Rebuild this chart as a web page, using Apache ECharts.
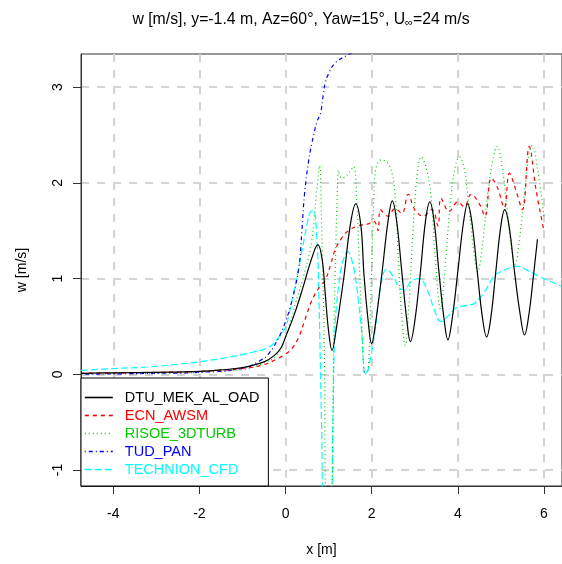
<!DOCTYPE html>
<html><head><meta charset="utf-8">
<script src="https://cdn.jsdelivr.net/npm/echarts@6/dist/echarts.min.js"></script>
<style>html,body{margin:0;padding:0;background:#fff}#c{width:562px;height:564px}</style>
</head><body><div id="c"></div>
<script>
const xTicks = [-4, -2, 0, 2, 4, 6];
const yTicks = [-1, 0, 1, 2, 3];
const seriesNames = ['DTU_MEK_AL_OAD', 'ECN_AWSM', 'RISOE_3DTURB', 'TUD_PAN', 'TECHNION_CFD'];
const dtu = [[-4.75,0.01],[-4,0.015],[-3,0.02],[-2,0.03],[-1.5,0.045],[-1,0.07],[-0.5,0.13],[-0.25,0.2],[-0.1,0.28],[0,0.39],[0.2,0.62],[0.4,0.9],[0.6,1.2],[0.75,1.355],[0.85,1.2],[0.92,0.85],[1.0,0.45],[1.08,0.25],[1.17,0.45],[1.35,1.0],[1.5,1.55],[1.63,1.78],[1.75,1.55],[1.82,1.05],[1.92,0.55],[2.0,0.32],[2.08,0.5],[2.24,1.06],[2.38,1.6],[2.48,1.81],[2.58,1.6],[2.7,1.07],[2.82,0.55],[2.9,0.34],[3.0,0.55],[3.13,1.06],[3.25,1.6],[3.35,1.8],[3.45,1.6],[3.56,1.08],[3.68,0.58],[3.77,0.36],[3.87,0.58],[4.0,1.07],[4.13,1.58],[4.23,1.78],[4.33,1.58],[4.45,1.08],[4.57,0.6],[4.67,0.39],[4.77,0.6],[4.88,1.06],[5.0,1.55],[5.09,1.72],[5.19,1.55],[5.32,1.06],[5.45,0.62],[5.55,0.41],[5.65,0.62],[5.75,1.0],[5.85,1.41]];
const ecn = [[-4.75,0.01],[-3,0.02],[-2,0.03],[-1,0.06],[-0.5,0.1],[-0.2,0.16],[0,0.21],[0.15,0.27],[0.31,0.39],[0.45,0.57],[0.61,0.77],[0.8,0.92],[0.92,0.98],[1.05,1.15],[1.15,1.30],[1.3,1.42],[1.46,1.50],[1.69,1.55],[1.92,1.57],[2.05,1.6],[2.15,1.5],[2.2,1.72],[2.38,1.65],[2.54,1.73],[2.7,1.68],[2.85,1.88],[3.0,1.72],[3.2,1.65],[3.4,1.72],[3.54,1.55],[3.61,1.84],[3.8,1.70],[4.0,1.80],[4.15,1.75],[4.31,1.88],[4.5,1.78],[4.63,1.65],[4.78,2.05],[4.92,1.95],[5.08,1.74],[5.2,2.10],[5.35,1.92],[5.5,1.72],[5.66,2.38],[5.82,1.92],[6.0,1.5]];
const risoe = [[-4.75,0.0],[-3,0.01],[-2,0.02],[-1,0.05],[-0.5,0.12],[-0.2,0.2],[0,0.38],[0.1,0.52],[0.23,0.74],[0.46,1.09],[0.61,1.4],[0.72,1.9],[0.79,2.18],[0.84,1.5],[0.9,0.3],[0.95,-1.3],[1.05,-1.3],[1.12,0.4],[1.17,1.4],[1.2,1.85],[1.23,2.13],[1.3,2.05],[1.38,2.06],[1.5,2.12],[1.58,2.17],[1.65,1.85],[1.71,1.2],[1.77,0.53],[1.85,0.0],[1.92,0.05],[1.98,0.8],[2.05,1.82],[2.1,2.15],[2.23,2.24],[2.42,2.17],[2.54,1.89],[2.62,1.2],[2.7,0.6],[2.78,0.3],[2.86,0.7],[2.96,1.5],[3.05,2.05],[3.15,2.27],[3.27,2.15],[3.38,1.85],[3.48,1.2],[3.6,0.68],[3.7,1.1],[3.82,1.75],[3.93,2.15],[4.04,2.27],[4.15,2.15],[4.27,1.7],[4.38,1.25],[4.46,1.07],[4.56,1.3],[4.7,1.9],[4.82,2.25],[4.91,2.38],[5.02,2.2],[5.15,1.7],[5.25,1.3],[5.33,1.15],[5.43,1.4],[5.55,1.9],[5.65,2.3],[5.73,2.39],[5.85,2.15],[6.0,1.65]];
const tud = [[-4.75,0.0],[-3,0.01],[-2,0.02],[-1,0.06],[-0.6,0.14],[-0.38,0.22],[-0.15,0.39],[0.0,0.55],[0.15,0.77],[0.31,1.12],[0.38,1.5],[0.44,1.88],[0.54,2.24],[0.61,2.41],[0.73,2.64],[0.81,2.72],[0.88,2.93],[0.92,3.04],[1.0,3.14],[1.15,3.25],[1.42,3.33],[1.6,3.37]];
const technion = [[-4.75,0.04],[-4,0.06],[-3.2,0.076],[-2.5,0.105],[-2,0.13],[-1.3,0.18],[-0.77,0.23],[-0.38,0.285],[-0.15,0.39],[0,0.49],[0.08,0.63],[0.31,1.12],[0.5,1.57],[0.58,1.70],[0.65,1.71],[0.73,1.4],[0.77,0.88],[0.8,0.3],[0.84,-0.6],[0.88,-1.3],[1.05,-1.3],[1.1,-0.5],[1.15,0.5],[1.27,1.05],[1.38,1.25],[1.44,1.28],[1.52,1.22],[1.61,1.05],[1.69,0.77],[1.77,0.43],[1.85,0.0],[1.92,0.05],[2.08,0.46],[2.2,0.9],[2.35,1.1],[2.5,1.02],[2.65,0.9],[2.75,0.88],[2.92,0.97],[3.1,1.0],[3.31,0.86],[3.45,0.68],[3.61,0.55],[3.8,0.62],[3.95,0.69],[4.2,0.72],[4.38,0.74],[4.62,0.86],[4.85,1.03],[5.0,1.07],[5.2,1.11],[5.38,1.13],[5.6,1.09],[5.85,1.03],[6.1,0.98],[6.4,0.92]];

const colors = ['#000000', '#ff0000', '#00cd00', '#0000ff', '#00ffff'];
const dashes = ['solid', [4,4], [1,3], [1,3,4,3], [7,3]];
const datas = [dtu, ecn, risoe, tud, technion];

const chart = echarts.init(document.getElementById('c'));
const FONT = 'Liberation Sans, Arial, sans-serif';
chart.setOption({
  animation: false,
  textStyle: { fontFamily: FONT },
  title: {
    text: 'w [m/s], y=-1.4 m, Az=60°, Yaw=15°, U{sub|∞}=24 m/s',
    left: 296, top: 6, textAlign: 'center',
    textStyle: { fontSize: 15.8, fontWeight: 'normal', color: '#000', fontFamily: FONT,
      rich: { sub: { fontSize: 11, verticalAlign: 'bottom', padding: [6,0,0,0], color: '#000', fontFamily: FONT } } }
  },
  grid: { left: 81, top: 54, right: -4, bottom: 78, show: true, borderColor: '#333', borderWidth: 1, backgroundColor: 'transparent' },
  legend: {
    orient: 'vertical', left: 81, top: 378,
    padding: [12, 9, 9, 3], itemGap: 3, itemWidth: 28, itemHeight: 14,
    backgroundColor: '#fff', borderColor: '#000', borderWidth: 1, borderRadius: 0,
    itemStyle: { opacity: 0, borderWidth: 0 },
    lineStyle: { width: 1.6, color: 'inherit', type: 'inherit' },
    textStyle: { fontSize: 14.5, fontFamily: FONT, padding: [0,0,0,7] },
    data: seriesNames.map((n, i) => ({ name: n, textStyle: { color: colors[i] } }))
  },
  xAxis: {
    type: 'value', min: -4.75, max: 6.42,
    name: 'x [m]', nameLocation: 'middle', nameGap: 57,
    nameTextStyle: { fontSize: 14, color: '#000', fontFamily: FONT },
    axisLine: { onZero: false, lineStyle: { color: '#333' } },
    axisTick: { show: true, length: 8, customValues: xTicks, lineStyle: { color: '#333' } },
    axisLabel: { customValues: xTicks, margin: 21, fontSize: 14, color: '#000', fontFamily: FONT },
    splitLine: { show: true, lineStyle: { color: '#d3d3d3', width: 2, type: [8,8] } }
  },
  yAxis: {
    type: 'value', min: -1.167, max: 3.345,
    name: 'w [m/s]', nameLocation: 'middle', nameGap: 52, nameRotate: 90,
    nameTextStyle: { fontSize: 14, color: '#000', fontFamily: FONT },
    axisLine: { onZero: false, lineStyle: { color: '#333' } },
    axisTick: { show: true, length: 8, customValues: yTicks, lineStyle: { color: '#333' } },
    axisLabel: { customValues: yTicks, margin: 16, rotate: 90, fontSize: 14, color: '#000', fontFamily: FONT },
    splitLine: { show: true, lineStyle: { color: '#d3d3d3', width: 2, type: [8,8] } }
  },
  series: seriesNames.map((n, i) => ({
    name: n, type: 'line', data: datas[i], smooth: 0.4, symbol: 'none', clip: true,
    z: 10 - i,
    lineStyle: { color: colors[i], width: 1.2, type: dashes[i] },
    itemStyle: { color: colors[i] }
  }))
});
</script></body></html>
